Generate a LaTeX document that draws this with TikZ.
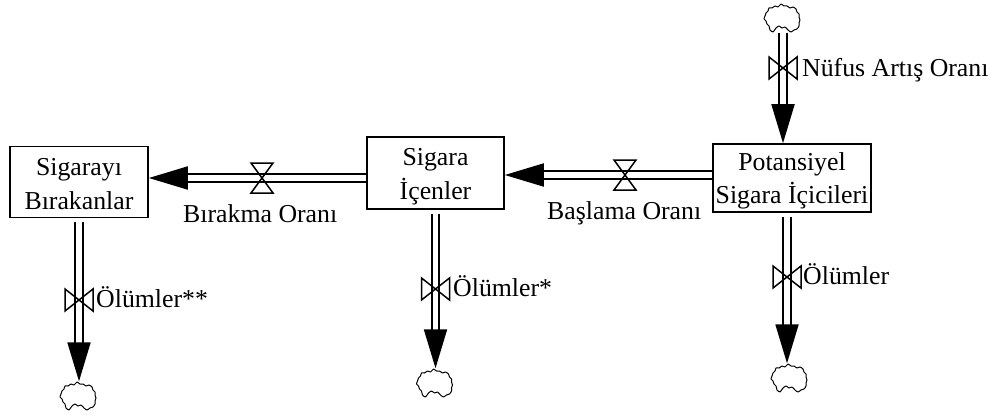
\documentclass[tikz,border=0pt]{standalone}
\usepackage{fontspec}
\setmainfont{Liberation Serif}
\usetikzlibrary{arrows.meta}
\newcommand{\fs}{\fontsize{25.8}{33.5}\selectfont}
\newcommand{\cloudpts}{(-16,-5)(-14,-7)(-13,-10)(-10,-10)(-7,-12)(-4,-11)(-1,-14)(2,-12)(5,-12)(8,-10)(11,-11)(14,-9)(15,-6)(17,-4)(17,-1)(18,2)(17,5)(17,8)(15,11)(12,12)(9,14)(6,12)(3,9)(0,10)(-3,8)(-6,10)(-9,14)(-12,12)(-13,8)(-15,6)(-16,3)(-18,1)(-17,-2)}
\tikzset{
  stock/.style={draw,line width=1.6pt,inner sep=0pt,align=center,font=\fs},
  lbl/.style={inner sep=0pt,font=\fs,anchor=base west},
  anchorcloud/.style={inner sep=0pt,minimum width=36pt,minimum height=29pt},
  flow/.style={draw,line width=1.9pt,double=white,double distance=5.4pt,-{Triangle[length=39pt,width=23pt,sep=0pt]}},
  cloudp/.pic={\draw[line width=1pt,line join=round] plot[smooth cycle,tension=.4] coordinates{\cloudpts};},
  vvalve/.pic={\draw[line width=1.5pt] (-14,-11)--(14,11)--(14,-11)--(-14,11)--cycle;},
  hvalve/.pic={\draw[line width=1.5pt] (-11,-15)--(11,15)--(-11,15)--(11,-15)--cycle;},
}
\begin{document}
\begin{tikzpicture}[x=1pt,y=-1pt]
\useasboundingbox (0,0) rectangle (1000,417);
% stocks
\node[stock,minimum width=138pt,minimum height=71pt] (sb) at (79,182) {\rule{0pt}{21pt}Sigarayı\\Bırakanlar};
\node[stock,minimum width=137pt,minimum height=72pt] (si) at (435.5,173) {\rule{0pt}{24pt}Sigara\\İçenler};
\node[stock,minimum width=158pt,minimum height=68pt] (sp) at (792,178) {\rule{0pt}{24pt}Potansiyel\\Sigara İçicileri};
% clouds
\node[anchorcloud] (c1) at (782,18) {};
\node[anchorcloud] (c2) at (78,396) {};
\node[anchorcloud] (c3) at (434.5,383) {};
\node[anchorcloud] (c4) at (789,378) {};
\pic at (c1) {cloudp};
\pic at (c2) {cloudp};
\pic at (c3) {cloudp};
\pic at (c4) {cloudp};
% valve positions
\coordinate (v1) at (783,68);
\coordinate (v2) at (625,175);
\coordinate (v3) at (262,178);
\coordinate (v4) at (79,300);
\coordinate (v5) at (435.5,289);
\coordinate (v6) at (787,277);
% flows
\draw[flow] (v1 |- c1.south) -- (v1 |- sp.north);
\draw[flow] (sp.west |- v2) -- (si.east |- v2);
\draw[flow] (si.west |- v3) -- (sb.east |- v3);
\draw[flow,shorten <=4pt] (v4 |- sb.south) -- (v4 |- c2.north);
\draw[flow,shorten <=4pt] (v5 |- si.south) -- (v5 |- c3.north);
\draw[flow,shorten <=4pt] (v6 |- sp.south) -- (v6 |- c4.north);
% valves
\pic at (v1) {vvalve};
\pic at (v2) {hvalve};
\pic at (v3) {hvalve};
\pic at (v4) {vvalve};
\pic at (v5) {vvalve};
\pic at (v6) {vvalve};
% labels
\node[lbl] (l1) at (802,77) {Nüfus Artış Oranı};
\node[lbl] (l2) at (547,219) {Başlama Oranı};
\node[lbl] (l3) at (183,222) {Bırakma Oranı};
\node[lbl] (l4) at (96,307) {Ölümler**};
\node[lbl] (l5) at (453,296) {Ölümler*};
\node[lbl] (l6) at (803,284) {Ölümler};
\end{tikzpicture}
\end{document}
